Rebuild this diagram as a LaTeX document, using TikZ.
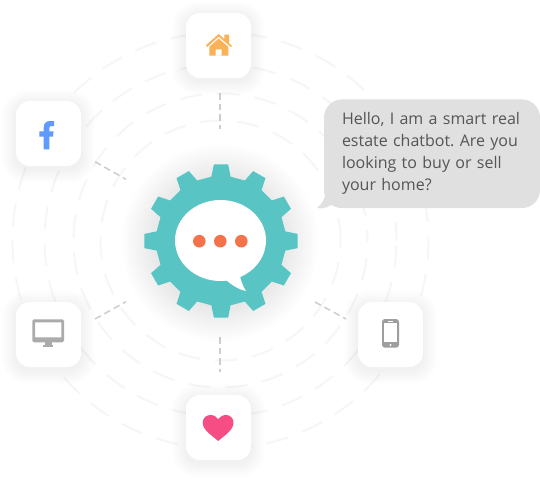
\documentclass[tikz,border=0pt]{standalone}
\usepackage{fontspec}
\setmainfont{Open Sans}
\frenchspacing
\definecolor{teal1}{HTML}{58C5C4}
\definecolor{dot1}{HTML}{F5734A}
\definecolor{ring1}{HTML}{F6F6F6}
\definecolor{conn1}{HTML}{CDCDCD}
\definecolor{bub1}{HTML}{E0E0E0}
\definecolor{txt1}{HTML}{555555}
\definecolor{home1}{HTML}{F9B257}
\definecolor{fb1}{HTML}{5E9BFC}
\definecolor{mon1}{HTML}{ABABAB}
\definecolor{pho1}{HTML}{9E9E9E}
\definecolor{heart1}{HTML}{F54D84}
\tikzset{
  ring/.style={draw=ring1,line width=1.5pt,dash pattern=on 17pt off 11pt},
  conn/.style={draw=conn1,line width=1.1pt,dash pattern=on 5pt off 3pt},
  iconbox/.style={fill=white,rounded corners=10.5pt,minimum width=48.75pt,minimum height=48.75pt,inner sep=0pt},
  bubble/.style={fill=bub1,rounded corners=13.5pt,minimum width=162pt,minimum height=81.4pt,inner xsep=13.5pt,inner ysep=0pt,text=txt1,text width=135pt,align=left,font=\fontsize{12}{16.5}\selectfont}
}
\newcommand{\softbox}[2]{%
  \foreach \k in {1,...,14}{%
    \fill[black,opacity=0.0036,rounded corners={(10.5+0.55*\k)*1pt}]
      (#1-32.5-\k*1.0,#2-32.5-\k*1.0+3) rectangle (#1+32.5+\k*1.0,#2+32.5+\k*1.0+3);
  }}
\begin{document}
\begin{tikzpicture}[x=0.75pt,y=-0.75pt]
\useasboundingbox (0,0) rectangle (540,479);
\fill[white] (0,0) rectangle (540,479);
\coordinate (c) at (220.5,240.5);
% rings
\foreach \r/\o in {120/0,147/9,176/3,208/14}{
  \draw[ring,dash phase=\o pt] (c) circle[radius=\r*0.75pt];
}
% connector ends
\coordinate (t1) at (220,93); \coordinate (t2) at (220,129);
\coordinate (b1) at (220,337); \coordinate (b2) at (220,372);
\coordinate (l1) at (95,161.7); \coordinate (l2) at (126,179.3);
\coordinate (m1) at (95,319); \coordinate (m2) at (126,301.7);
\coordinate (p1) at (315,302); \coordinate (p2) at (346,319);
\draw[conn] (t1) -- (t2);
\draw[conn] (b1) -- (b2);
\draw[conn] (l1) -- (l2);
\draw[conn] (m1) -- (m2);
\draw[conn] (p1) -- (p2);
% gear shadow
\foreach \r in {62,65,...,98}{
  \fill[black,opacity=0.0065] (220,243) circle[radius=\r*0.75pt];
}
% gear
\begin{scope}[shift={(221,241)}]
\fill[teal1] (-8.5:65)
  \foreach \a in {0,30,...,330}{
    -- ({\a-8.5}:65) -- ({\a-5.3}:77) -- ({\a+5.3}:77) -- ({\a+8.5}:65)
  } -- cycle;
\end{scope}
% chat bubble
\fill[white] (220.5,240.5) ellipse[x radius=45.5*0.75pt,y radius=40.5*0.75pt];
\coordinate (tail1) at (226,280);
\coordinate (tail2) at (240,276);
\coordinate (tailtip) at (245.8,291);
\fill[white] (tail1) .. controls (233,286) and (240,290) .. (tailtip) .. controls (243,286) and (241,281) .. (tail2) -- cycle;
\foreach \x in {199.3,220.3,241.3}{
  \fill[dot1] (\x,241.2) circle[radius=6.3*0.75pt];
}
% icon boxes
\softbox{218.5}{45.5}
\softbox{48.5}{133.5}
\softbox{48.5}{334.5}
\softbox{390.5}{334.5}
\softbox{218.5}{427.5}
\node[iconbox] (home) at (218.5,45.5) {};
\node[iconbox] (fb) at (48.5,133.5) {};
\node[iconbox] (mon) at (48.5,334.5) {};
\node[iconbox] (pho) at (390.5,334.5) {};
\node[iconbox] (hrt) at (218.5,427.5) {};
% home icon
\fill[home1] (206,45.2) -- (218.7,34) -- (224.3,39) -- (224.3,34.5) -- (229,34.5) -- (229,43.2) -- (232,45.8) -- (230.8,47) -- (218.7,36.6) -- (207.2,47) -- cycle;
\fill[home1,even odd rule] (218.7,38.6) -- (228.3,46.8) -- (228.3,55.7) -- (209.3,55.7) -- (209.3,46.8) -- cycle
  (215.7,55.7) rectangle (221.7,49.3);
% facebook icon
\fill[fb1] (43.7,149.3) -- (43.7,136.7) -- (39.3,136.7) -- (39.3,131.3) -- (43.7,131.3) -- (43.7,128)
  .. controls (43.7,123) and (46.5,121) .. (50,121) -- (54,121) -- (54,126) -- (51.5,126)
  .. controls (49.8,126) and (49.3,126.8) .. (49.3,128.2) -- (49.3,131.3) -- (53.6,131.3) -- (53,136.7) -- (49.3,136.7) -- (49.3,149.3) -- cycle;
% monitor icon
\fill[mon1,even odd rule,rounded corners=1.2pt] (32.3,319.3) rectangle (64,342.3)
  [sharp corners] (35,322.3) rectangle (61.3,337.3);
\fill[mon1] (45,342) rectangle (51.7,345.2);
\fill[mon1] (42.7,345) rectangle (53.3,347);
% phone icon
\fill[pho1,rounded corners=2.2pt] (382,319) rectangle (399,347.7);
\fill[white] (384,323.3) rectangle (397,342.3);
\fill[white] (390.5,345) circle[radius=1.2*0.75pt];
\fill[white] (388,320.6) rectangle (393,321.5);
% heart icon
\fill[heart1] (218.2,441) .. controls (212,435.5) and (202.7,430) .. (202.7,422.8)
  .. controls (202.7,418) and (206.3,415) .. (210.5,415)
  .. controls (214,415) and (216.8,416.8) .. (218.2,419.2)
  .. controls (219.8,416.8) and (222.4,415) .. (226,415)
  .. controls (230,415) and (233.5,418) .. (233.5,422.8)
  .. controls (233.5,430) and (224.5,435.5) .. (218.2,441) -- cycle;
% speech bubble
\coordinate (stip) at (317,208);
\coordinate (sa) at (326,190);
\coordinate (sb) at (340,208);
\node[bubble] (msg) at (432,153.75) {Hello, I am a smart real\\estate chatbot. Are you\\looking to buy or sell\\your home?};
\fill[bub1] (sa) .. controls (326,198) and (322,204) .. (stip) .. controls (322,209.5) and (328,207) .. (331,205) -- (sb) -- cycle;
\end{tikzpicture}
\end{document}
